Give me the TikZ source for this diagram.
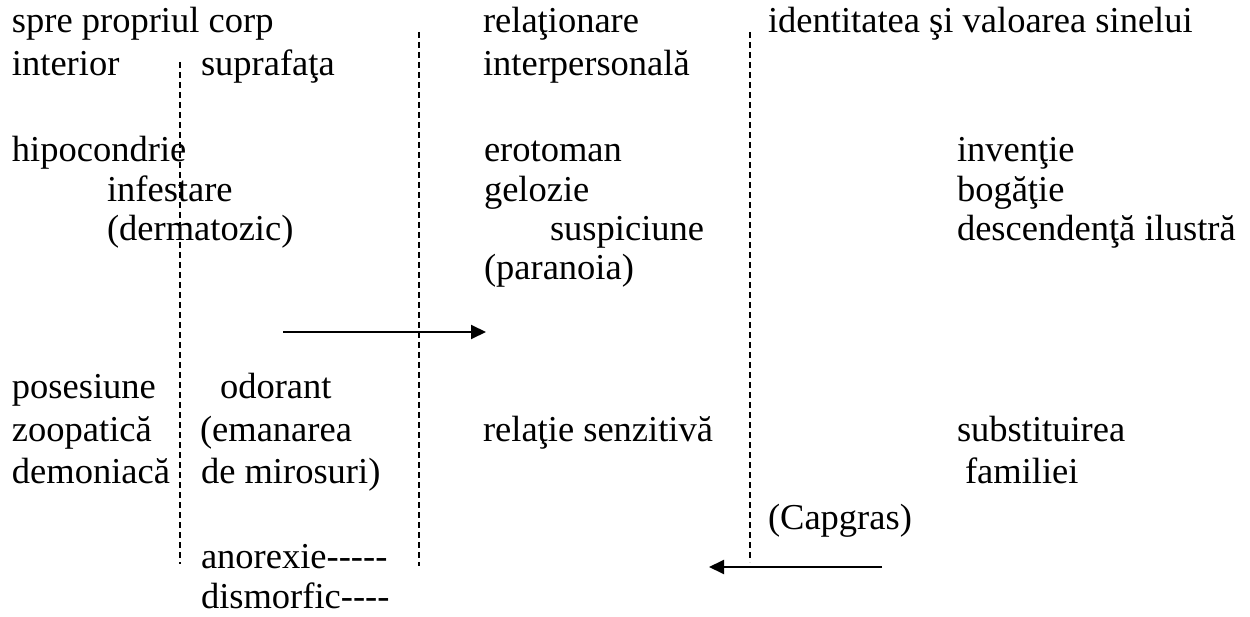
\documentclass[tikz,border=0pt]{standalone}
\usepackage{fontspec}
\setmainfont{Liberation Serif}[Ligatures=TeXOff]
\usetikzlibrary{arrows.meta}
\begin{document}
\begin{tikzpicture}[x=1pt,y=-1pt,
  lbl/.style={anchor=base west,inner sep=0pt,outer sep=0pt,font=\fontsize{36.5}{42}\selectfont},
  divider/.style={line width=1.3pt,dash pattern=on 6pt off 4pt},
  flow/.style={line width=2pt,-{Triangle[length=15pt,width=14pt]}}]
\useasboundingbox[fill=white] (0,0) rectangle (1250,617);

% column headings
\node[lbl] (body)   at (12,33)  {spre propriul corp};
\node[lbl] (inner)  at (12,76)  {interior};
\node[lbl] (surf)   at (201,76) {suprafaţa};
\node[lbl] (rel)    at (483,33) {relaţionare};
\node[lbl] (interp) at (483,76) {interpersonală};
\node[lbl] (ident)  at (768,33) {identitatea şi valoarea sinelui};

% upper block
\node[lbl] (hipo)  at (12,162)  {hipocondrie};
\node[lbl] (infes) at (107,202) {infestare};
\node[lbl] (derm)  at (107,241) {(dermatozic)};
\node[lbl] (erot)  at (484,162) {erotoman};
\node[lbl] (gel)   at (484,202) {gelozie};
\node[lbl] (susp)  at (550,241) {suspiciune};
\node[lbl] (para)  at (484,280) {(paranoia)};
\node[lbl] (inv)   at (957,162) {invenţie};
\node[lbl] (bog)   at (957,202) {bogăţie};
\node[lbl] (desc)  at (957,241) {descendenţă ilustră};

% lower block
\node[lbl] (poses) at (12,399)  {posesiune};
\node[lbl] (zoo)   at (12,441)  {zoopatică};
\node[lbl] (demon) at (12,483)  {demoniacă};
\node[lbl] (odor)  at (220,399) {odorant};
\node[lbl] (eman)  at (200,441) {(emanarea};
\node[lbl] (miros) at (201,483) {de mirosuri)};
\node[lbl] (senz)  at (483,441) {relaţie senzitivă};
\node[lbl] (subst) at (957,441) {substituirea};
\node[lbl] (fam)   at (965,483) {familiei};
\node[lbl] (capg)  at (768,529) {(Capgras)};
\node[lbl] (anor)  at (201,568) {anorexie-----};
\node[lbl] (dism)  at (201,608) {dismorfic----};

% dashed dividers between the columns
\coordinate (d1t) at (180,62);  \coordinate (d1b) at (180,564);
\coordinate (d2t) at (419,32);  \coordinate (d2b) at (419,566);
\coordinate (d3t) at (750,32);  \coordinate (d3b) at (750,562);
\draw[divider] (d1t) -- (d1b);
\draw[divider] (d2t) -- (d2b);
\draw[divider] (d3t) -- (d3b);

% arrows
\coordinate (a1s) at (283,332); \coordinate (a1e) at (486,332);
\draw[flow] (a1s) -- (a1e);
\coordinate (a2s) at (882,567); \coordinate (a2e) at (709,567);
\draw[flow] (a2s) -- (a2e);
\end{tikzpicture}
\end{document}
